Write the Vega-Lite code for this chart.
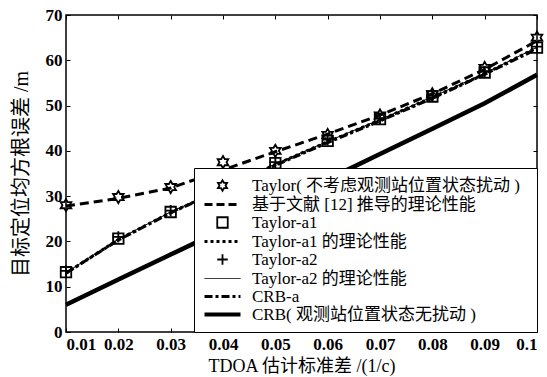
{
  "$schema": "https://vega.github.io/schema/vega-lite/v6.json",
  "width": 471,
  "height": 317,
  "autosize": "none",
  "padding": {"left": 66, "top": 15, "right": 10, "bottom": 45},
  "background": "white",
  "config": {
    "font": "Liberation Serif, Noto Sans CJK SC",
    "view": {"stroke": "black", "strokeWidth": 1.5},
    "axis": {
      "grid": false, "domain": false, "tickColor": "black", "tickSize": -4, "tickWidth": 1,
      "labelColor": "black", "labelFontSize": 17, "labelFontWeight": "bold", "labelFont": "Liberation Serif, Noto Sans CJK SC",
      "titleColor": "#000000", "titleFontSize": 18, "titleFontWeight": "normal", "titleFont": "Liberation Serif, Noto Sans CJK SC"
    },
    "legend": {
      "labelFont": "Liberation Serif, Noto Sans CJK SC", "labelFontSize": 17, "labelColor": "black"
    }
  },
  "data": {"values": [
    {"x": 0.01, "y": 28.0, "s": "T"}, {"x": 0.02, "y": 29.8, "s": "T"}, {"x": 0.03, "y": 32.0, "s": "T"}, {"x": 0.04, "y": 37.5, "s": "T"}, {"x": 0.05, "y": 40.0, "s": "T"},
    {"x": 0.06, "y": 43.5, "s": "T"}, {"x": 0.07, "y": 47.8, "s": "T"}, {"x": 0.08, "y": 52.5, "s": "T"}, {"x": 0.09, "y": 58.3, "s": "T"}, {"x": 0.1, "y": 65.0, "s": "T"},
    {"x": 0.01, "y": 27.8, "s": "Tt"}, {"x": 0.02, "y": 29.5, "s": "Tt"}, {"x": 0.03, "y": 31.8, "s": "Tt"}, {"x": 0.04, "y": 35.8, "s": "Tt"}, {"x": 0.05, "y": 39.8, "s": "Tt"},
    {"x": 0.06, "y": 43.7, "s": "Tt"}, {"x": 0.07, "y": 47.9, "s": "Tt"}, {"x": 0.08, "y": 52.6, "s": "Tt"}, {"x": 0.09, "y": 58.0, "s": "Tt"}, {"x": 0.1, "y": 64.3, "s": "Tt"},
    {"x": 0.01, "y": 13.2, "s": "A1"}, {"x": 0.02, "y": 20.6, "s": "A1"}, {"x": 0.03, "y": 26.5, "s": "A1"}, {"x": 0.04, "y": 31.8, "s": "A1"}, {"x": 0.05, "y": 37.3, "s": "A1"},
    {"x": 0.06, "y": 42.2, "s": "A1"}, {"x": 0.07, "y": 47.0, "s": "A1"}, {"x": 0.08, "y": 52.0, "s": "A1"}, {"x": 0.09, "y": 57.3, "s": "A1"}, {"x": 0.1, "y": 62.8, "s": "A1"},
    {"x": 0.01, "y": 13.0, "s": "A1t"}, {"x": 0.02, "y": 20.4, "s": "A1t"}, {"x": 0.03, "y": 26.4, "s": "A1t"}, {"x": 0.04, "y": 31.6, "s": "A1t"}, {"x": 0.05, "y": 37.0, "s": "A1t"},
    {"x": 0.06, "y": 42.0, "s": "A1t"}, {"x": 0.07, "y": 46.8, "s": "A1t"}, {"x": 0.08, "y": 51.8, "s": "A1t"}, {"x": 0.09, "y": 57.0, "s": "A1t"}, {"x": 0.1, "y": 62.8, "s": "A1t"},
    {"x": 0.01, "y": 13.5, "s": "A2"}, {"x": 0.02, "y": 21.0, "s": "A2"}, {"x": 0.03, "y": 26.8, "s": "A2"}, {"x": 0.04, "y": 32.0, "s": "A2"}, {"x": 0.05, "y": 37.5, "s": "A2"},
    {"x": 0.06, "y": 42.5, "s": "A2"}, {"x": 0.07, "y": 47.2, "s": "A2"}, {"x": 0.08, "y": 52.2, "s": "A2"}, {"x": 0.09, "y": 57.5, "s": "A2"}, {"x": 0.1, "y": 63.0, "s": "A2"},
    {"x": 0.01, "y": 13.1, "s": "A2t"}, {"x": 0.02, "y": 20.5, "s": "A2t"}, {"x": 0.03, "y": 26.5, "s": "A2t"}, {"x": 0.04, "y": 31.7, "s": "A2t"}, {"x": 0.05, "y": 37.1, "s": "A2t"},
    {"x": 0.06, "y": 42.1, "s": "A2t"}, {"x": 0.07, "y": 46.9, "s": "A2t"}, {"x": 0.08, "y": 51.9, "s": "A2t"}, {"x": 0.09, "y": 57.1, "s": "A2t"}, {"x": 0.1, "y": 62.9, "s": "A2t"},
    {"x": 0.01, "y": 13.0, "s": "CA"}, {"x": 0.02, "y": 20.3, "s": "CA"}, {"x": 0.03, "y": 26.3, "s": "CA"}, {"x": 0.04, "y": 31.5, "s": "CA"}, {"x": 0.05, "y": 36.8, "s": "CA"},
    {"x": 0.06, "y": 41.8, "s": "CA"}, {"x": 0.07, "y": 46.6, "s": "CA"}, {"x": 0.08, "y": 51.6, "s": "CA"}, {"x": 0.09, "y": 56.9, "s": "CA"}, {"x": 0.1, "y": 62.5, "s": "CA"},
    {"x": 0.01, "y": 6.0, "s": "C"}, {"x": 0.02, "y": 11.6, "s": "C"}, {"x": 0.03, "y": 17.1, "s": "C"}, {"x": 0.04, "y": 22.6, "s": "C"}, {"x": 0.05, "y": 28.2, "s": "C"},
    {"x": 0.06, "y": 33.7, "s": "C"}, {"x": 0.07, "y": 39.3, "s": "C"}, {"x": 0.08, "y": 44.9, "s": "C"}, {"x": 0.09, "y": 50.5, "s": "C"}, {"x": 0.1, "y": 56.8, "s": "C"}
  ]},
  "resolve": {"axis": {"x": "independent", "y": "independent"}},
  "layer": [
    {
      "mark": {"type": "point", "opacity": 0},
      "encoding": {
        "x": {"field": "x", "type": "quantitative", "scale": {"domain": [0.01, 0.1], "nice": false, "zero": false},
              "axis": {"values": [0.01, 0.02, 0.03, 0.04, 0.05, 0.06, 0.07, 0.08, 0.09, 0.1], "format": ".2~f", "title": "TDOA 估计标准差 /(1/c)", "labelPadding": 8, "titlePadding": 5}},
        "y": {"field": "y", "type": "quantitative", "scale": {"domain": [0, 70], "nice": false},
              "axis": {"values": [0, 10, 20, 30, 40, 50, 60, 70], "title": "目标定位均方根误差 /m", "titleFontSize": 20, "labelPadding": 8, "titlePadding": 14}}
      }
    },
    {
      "mark": {"type": "point", "opacity": 0},
      "encoding": {
        "x": {"field": "x", "type": "quantitative", "axis": {"orient": "top", "values": [0.01, 0.02, 0.03, 0.04, 0.05, 0.06, 0.07, 0.08, 0.09, 0.1], "labels": false, "title": null}},
        "y": {"field": "y", "type": "quantitative", "axis": {"orient": "right", "values": [0, 10, 20, 30, 40, 50, 60, 70], "labels": false, "title": null}}
      }
    },
    {
      "transform": [{"filter": "datum.s === 'C'"}],
      "mark": {"type": "line", "strokeWidth": 4.5, "strokeCap": "butt"},
      "encoding": {
        "x": {"field": "x", "type": "quantitative", "axis": null},
        "y": {"field": "y", "type": "quantitative", "axis": null},
        "color": {"field": "s", "type": "nominal",
          "scale": {"domain": ["T", "Tt", "A1", "A1t", "A2", "A2t", "CA", "C"], "range": ["black", "black", "black", "black", "black", "black", "black", "black"]},
          "legend": {
            "title": "i", "titleOrient": "right", "titleOpacity": 0, "titleFontSize": 4, "titlePadding": 6,
            "orient": "bottom-right", "offset": 0, "padding": 9,
            "strokeColor": "black", "fillColor": "white",
            "symbolSize": 1296, "symbolType": "stroke", "labelOffset": 21, "symbolOffset": 11, "rowPadding": 0,
            "labelLimit": 400,
            "labelExpr": "{'T': 'Taylor( 不考虑观测站位置状态扰动 )', 'Tt': '基于文献 [12] 推导的理论性能', 'A1': 'Taylor-a1', 'A1t': 'Taylor-a1 的理论性能', 'A2': 'Taylor-a2', 'A2t': 'Taylor-a2 的理论性能', 'CA': 'CRB-a', 'C': 'CRB( 观测站位置状态无扰动 )'}[datum.value]",
            "encode": {
              "symbols": {
                "update": {
                  "shape": {"signal": "datum.value === 'T' ? 'M0,-1L0.289,-0.5L0.866,-0.5L0.577,0L0.866,0.5L0.289,0.5L0,1L-0.289,0.5L-0.866,0.5L-0.577,0L-0.866,-0.5L-0.289,-0.5Z' : datum.value === 'A1' ? 'square' : datum.value === 'A2' ? 'M-1,0H1M0,-1V1' : 'stroke'"},
                  "size": {"signal": "indexof(['T','A1','A2'], datum.value) >= 0 ? 110 : 1296"},
                  "strokeDash": {"signal": "datum.value === 'Tt' ? [8, 4] : datum.value === 'A1t' ? [3, 3] : datum.value === 'CA' ? [8, 3, 3, 3] : [1, 0]"},
                  "strokeWidth": {"signal": "datum.value === 'C' ? 4 : datum.value === 'A2t' ? 1 : indexof(['T','A1','A2'], datum.value) >= 0 ? 1.8 : 3"},
                  "stroke": {"value": "black"},
                  "fill": {"value": "transparent"},
                  "opacity": {"value": 1}
                }
              }
            }
          }
        }
      }
    },
    {
      "transform": [{"filter": "datum.s === 'CA'"}],
      "mark": {"type": "line", "strokeWidth": 3, "strokeDash": [8, 3, 3, 3]},
      "encoding": {
        "x": {"field": "x", "type": "quantitative", "axis": null},
        "y": {"field": "y", "type": "quantitative", "axis": null},
        "color": {"field": "s", "type": "nominal"}
      }
    },
    {
      "transform": [{"filter": "datum.s === 'A2t'"}],
      "mark": {"type": "line", "strokeWidth": 1},
      "encoding": {
        "x": {"field": "x", "type": "quantitative", "axis": null},
        "y": {"field": "y", "type": "quantitative", "axis": null},
        "color": {"field": "s", "type": "nominal"}
      }
    },
    {
      "transform": [{"filter": "datum.s === 'A1t'"}],
      "mark": {"type": "line", "strokeWidth": 3, "strokeDash": [3, 3]},
      "encoding": {
        "x": {"field": "x", "type": "quantitative", "axis": null},
        "y": {"field": "y", "type": "quantitative", "axis": null},
        "color": {"field": "s", "type": "nominal"}
      }
    },
    {
      "transform": [{"filter": "datum.s === 'Tt'"}],
      "mark": {"type": "line", "strokeWidth": 3, "strokeDash": [9, 5]},
      "encoding": {
        "x": {"field": "x", "type": "quantitative", "axis": null},
        "y": {"field": "y", "type": "quantitative", "axis": null},
        "color": {"field": "s", "type": "nominal"}
      }
    },
    {
      "transform": [{"filter": "datum.s === 'T'"}],
      "mark": {"type": "point", "shape": "M0,-1L0.289,-0.5L0.866,-0.5L0.577,0L0.866,0.5L0.289,0.5L0,1L-0.289,0.5L-0.866,0.5L-0.577,0L-0.866,-0.5L-0.289,-0.5Z", "size": 150, "strokeWidth": 1.8, "filled": false, "opacity": 1},
      "encoding": {
        "x": {"field": "x", "type": "quantitative", "axis": null},
        "y": {"field": "y", "type": "quantitative", "axis": null},
        "color": {"field": "s", "type": "nominal"}
      }
    },
    {
      "transform": [{"filter": "datum.s === 'A1'"}],
      "mark": {"type": "point", "shape": "square", "size": 110, "strokeWidth": 1.8, "filled": false, "opacity": 1},
      "encoding": {
        "x": {"field": "x", "type": "quantitative", "axis": null},
        "y": {"field": "y", "type": "quantitative", "axis": null},
        "color": {"field": "s", "type": "nominal"}
      }
    },
    {
      "transform": [{"filter": "datum.s === 'A2'"}],
      "mark": {"type": "point", "shape": "M-1,0H1M0,-1V1", "size": 130, "strokeWidth": 1.8, "filled": false, "opacity": 1},
      "encoding": {
        "x": {"field": "x", "type": "quantitative", "axis": null},
        "y": {"field": "y", "type": "quantitative", "axis": null},
        "color": {"field": "s", "type": "nominal"}
      }
    }
  ]
}
